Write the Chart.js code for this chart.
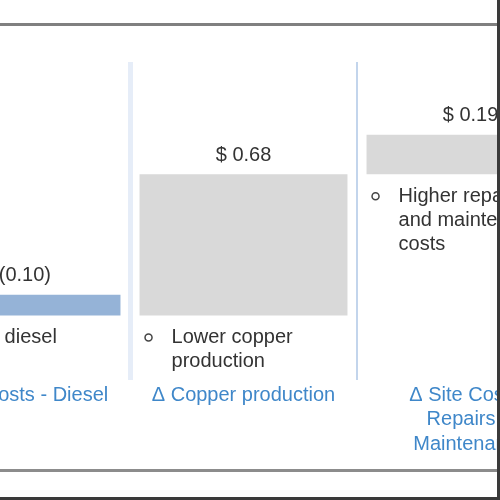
<!DOCTYPE html>
<html>
<head>
<meta charset="utf-8">
<script src="https://cdn.jsdelivr.net/npm/chart.js@4/dist/chart.umd.min.js"></script>
<style>
  html, body { margin:0; padding:0; width:500px; height:500px; overflow:hidden; background:#fff; }
  #wrap { position:absolute; left:-97px; top:0; width:681px; height:500px; }
  .ln { position:absolute; }
</style>
</head>
<body>
<div id="wrap"><canvas id="c"></canvas></div>
<div class="ln" style="left:0;top:23px;width:497px;height:3px;background:#808080"></div>
<div class="ln" style="left:0;top:469px;width:497px;height:3px;background:#8c8c8c"></div>
<div class="ln" style="left:0;top:497px;width:500px;height:3px;background:#3a3a3a"></div>
<div class="ln" style="left:497px;top:0;width:3px;height:500px;background:#3a3a3a"></div>
<script>
// ---- data ----
const categories = [
  "Δ Site Costs - Diesel",
  "Δ Copper production",
  ["Δ Site Costs -", "Repairs &", "Maintenance"]
];
const deltas = [-0.10, 0.68, 0.19];
const startLevel = 1.10;           // running total before the first visible step
const notes = [
  ["Lower diesel", "costs"],
  ["Lower copper", "production"],
  ["Higher repairs", "and maintenance", "costs"]
];
const barColors = ["#95b3d7", "#d9d9d9", "#d9d9d9"];
const yMin = 0.69, yMax = 2.22;

// floating ranges built from the deltas
const ranges = [];
let level = startLevel;
for (const d of deltas) { ranges.push([level, level + d]); level += d; }

const FONT = "'Liberation Sans', Arial, sans-serif";

const labelPlugin = {
  id: 'wfLabels',
  afterDatasetsDraw(chart) {
    const ctx = chart.ctx;
    const meta = chart.getDatasetMeta(0);
    ctx.save();
    meta.data.forEach((el, i) => {
      const top = Math.min(el.y, el.base);
      const bot = Math.max(el.y, el.base);
      const left = el.x - el.width / 2;
      const d = deltas[i];
      const txt = d < 0 ? '$ (' + Math.abs(d).toFixed(2) + ')' : '$ ' + d.toFixed(2);
      ctx.font = '20px ' + FONT;
      ctx.fillStyle = '#333333';
      ctx.textAlign = 'center';
      ctx.textBaseline = 'middle';
      ctx.fillText(txt, el.x, top - 19);
      // bullet notes
      ctx.textAlign = 'left';
      const lines = notes[i];
      lines.forEach((ln, k) => {
        ctx.fillText(ln, left + 32, bot + 22 + k * 24);
      });
      ctx.beginPath();
      ctx.strokeStyle = '#444444';
      ctx.lineWidth = 1.5;
      ctx.arc(left + 9, bot + 22, 3.5, 0, Math.PI * 2);
      ctx.stroke();
    });
    ctx.restore();
  }
};

new Chart(document.getElementById('c'), {
  type: 'bar',
  data: {
    labels: categories,
    datasets: [{
      data: ranges,
      backgroundColor: barColors,
      borderWidth: 0,
      barPercentage: 1,
      categoryPercentage: 0.916
    }]
  },
  options: {
    responsive: true,
    maintainAspectRatio: false,
    animation: false,
    devicePixelRatio: 1,
    layout: { padding: { top: 62, left: 0, right: 0, bottom: 0 } },
    plugins: { legend: { display: false }, tooltip: { enabled: false } },
    scales: {
      x: {
        offset: true,
        border: { display: false },
        grid: {
          offset: true,
          drawTicks: false,
          color: c => c.index === 1 ? '#e6edf8' : '#c3d5ec',
          lineWidth: c => c.index === 1 ? 5 : 2
        },
        ticks: {
          autoSkip: false,
          maxRotation: 0,
          padding: 3,
          color: '#3f87c9',
          font: { family: FONT, size: 20, lineHeight: 1.22 }
        },
        afterFit: s => { s.height = 120; }
      },
      y: {
        display: false,
        min: yMin,
        max: yMax
      }
    }
  },
  plugins: [labelPlugin]
});
</script>
</body>
</html>
